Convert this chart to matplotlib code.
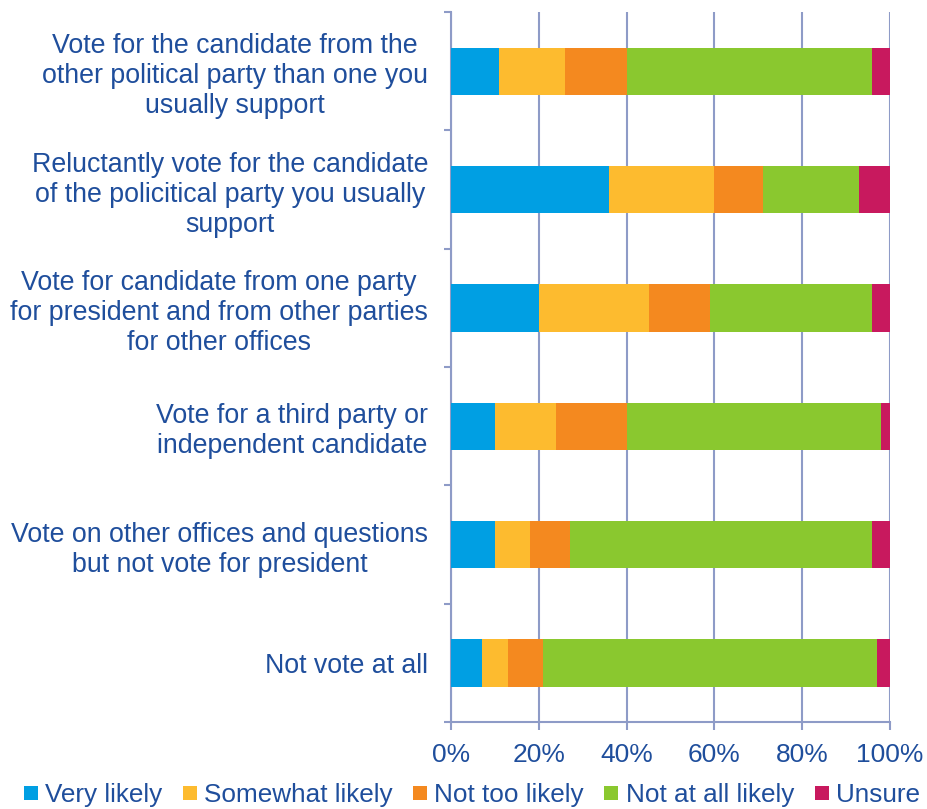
import matplotlib
matplotlib.use("Agg")
import matplotlib.pyplot as plt
from matplotlib.lines import Line2D
import numpy as np

plt.rcParams['font.family'] = ['Liberation Sans', 'DejaVu Sans']

categories = [
    "Vote for the candidate from the\nother political party than one you\nusually support",
    "Reluctantly vote for the candidate\nof the policitical party you usually\nsupport",
    "Vote for candidate from one party\nfor president and from other parties\nfor other offices",
    "Vote for a third party or\nindependent candidate",
    "Vote on other offices and questions\nbut not vote for president",
    "Not vote at all",
]
series_names = ["Very likely", "Somewhat likely", "Not too likely", "Not at all likely", "Unsure"]
very_likely = [11, 36, 20, 10, 10, 7]
somewhat_likely = [15, 24, 25, 14, 8, 6]
not_too_likely = [14, 11, 14, 16, 9, 8]
not_at_all_likely = [56, 22, 37, 58, 69, 76]
unsure = [4, 7, 4, 2, 4, 3]
xtick_labels = ["0%", "20%", "40%", "60%", "80%", "100%"]

colors = ["#009FE3", "#FDBB2F", "#F4891F", "#8AC82F", "#C8195E"]
text_color = "#1F4E9C"
grid_color = "#8E9BC7"

series = [very_likely, somewhat_likely, not_too_likely, not_at_all_likely, unsure]

fig = plt.figure(figsize=(9.28, 8.09), dpi=100)
ax = fig.add_axes([451/928, 1-722/809, (890-451)/928, (722-12)/809])

y = np.arange(len(categories))
left = np.zeros(len(categories))
for vals, c, name in zip(series, colors, series_names):
    vals = np.array(vals, dtype=float)
    ax.barh(y, vals, left=left, height=0.4, color=c, linewidth=0, zorder=3, label=name)
    left += vals

ax.set_xlim(0, 100)
ax.set_ylim(len(categories) - 0.5, -0.5)

ax.set_xticks([0, 20, 40, 60, 80, 100])
ax.set_xticklabels(xtick_labels)
ax.xaxis.grid(True, color=grid_color, linewidth=1.5, zorder=0)
ax.tick_params(axis='x', direction='out', length=6, width=1.5, color=grid_color,
               labelsize=19, labelcolor=text_color, pad=9)

ax.set_yticks(np.arange(-0.5, len(categories), 1.0))
ax.set_yticklabels([])
ax.set_yticks(y, minor=True)
ax.set_yticklabels(categories, minor=True, fontsize=19.3, color=text_color, ma='center')
ax.tick_params(axis='y', which='major', direction='out', length=5, width=1.5, color=grid_color)
ax.tick_params(axis='y', which='minor', length=0, pad=16.5)
for lbl in ax.get_yticklabels(minor=True):
    lbl.set_linespacing(1.2)

for s in ['top', 'right']:
    ax.spines[s].set_visible(False)
for s in ['left', 'bottom']:
    ax.spines[s].set_color(grid_color)
    ax.spines[s].set_linewidth(1.5)

handles = [Line2D([], [], linestyle='none', marker='s', markersize=9.4,
                  markerfacecolor=c, markeredgewidth=0) for c in colors]
leg = fig.legend(handles, series_names, loc='center', bbox_to_anchor=(472/928, 1-795/809),
                 ncol=5, frameon=False, fontsize=18.8, handlelength=0.5, handletextpad=0.3,
                 columnspacing=0.8, borderpad=0, borderaxespad=0)
for t in leg.get_texts():
    t.set_color(text_color)

fig.savefig("out.png", dpi=100)
